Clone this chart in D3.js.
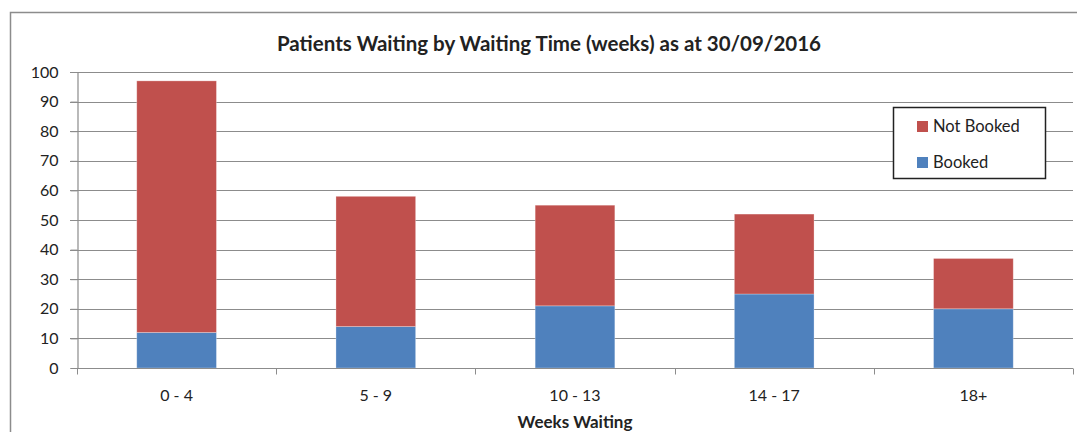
<!DOCTYPE html>
<html>
<head>
<meta charset="utf-8">
<script src="https://cdn.jsdelivr.net/npm/d3@7"></script>
<style>
  body { margin: 0; background: #fff; }
  text { font-family: Lato, "Open Sans", sans-serif; fill: #222; }
</style>
</head>
<body>
<div id="chart"></div>
<script>
// data
const categories = ['0 - 4', '5 - 9', '10 - 13', '14 - 17', '18+'];
const booked     = [12, 14, 21, 25, 20];
const notBooked  = [85, 44, 34, 27, 17];
const yTicks     = [0, 10, 20, 30, 40, 50, 60, 70, 80, 90, 100];
const seriesNames = ['Not Booked', 'Booked'];
const colors = { 'Booked': '#4F81BD', 'Not Booked': '#C0504D' };

const width = 1077, height = 432;
const margin = { top: 72, right: 4, bottom: 64, left: 77 };

const svg = d3.select('#chart').append('svg')
  .attr('width', width)
  .attr('height', height);

// outer frame
svg.append('rect')
  .attr('x', 10.5).attr('y', 12.5)
  .attr('width', 1100).attr('height', 450)
  .attr('fill', 'none')
  .attr('stroke', '#8c8c8c')
  .attr('stroke-width', 1.5);

const x = d3.scaleBand()
  .domain(categories)
  .range([margin.left, width - margin.right])
  .paddingInner(0.6)
  .paddingOuter(0.3);

const xOuter = d3.scaleBand()
  .domain(categories)
  .range([margin.left, width - margin.right]);

const y = d3.scaleLinear()
  .domain([0, 100])
  .range([height - margin.bottom, margin.top]);

// stacked data
const rows = categories.map((c, i) => ({ cat: c, 'Booked': booked[i], 'Not Booked': notBooked[i] }));
const stack = d3.stack().keys(['Booked', 'Not Booked']);
const layers = stack(rows);

// gridlines
svg.append('g')
  .selectAll('line')
  .data(yTicks.filter(d => d > 0))
  .enter().append('line')
  .attr('x1', margin.left - 7)
  .attr('x2', width - margin.right)
  .attr('y1', d => Math.round(y(d)) + 0.5)
  .attr('y2', d => Math.round(y(d)) + 0.5)
  .attr('stroke', '#8c8c8c')
  .attr('stroke-width', 1);

// bars
svg.append('g')
  .selectAll('g')
  .data(layers)
  .enter().append('g')
  .attr('fill', d => colors[d.key])
  .selectAll('rect')
  .data(d => d)
  .enter().append('rect')
  .attr('x', d => x(d.data.cat))
  .attr('y', d => y(d[1]))
  .attr('width', x.bandwidth())
  .attr('height', d => y(d[0]) - y(d[1]))
  .attr('stroke', 'rgba(255,255,255,0.35)')
  .attr('stroke-width', 0.8);

// y axis
const yAxis = svg.append('g')
  .attr('transform', `translate(${margin.left + 0.5},0)`)
  .call(d3.axisLeft(y).tickValues(yTicks).tickSize(7).tickPadding(12));
yAxis.select('.domain').attr('stroke', '#8c8c8c').attr('stroke-width', 1.2);
yAxis.selectAll('.tick line').attr('stroke', '#8c8c8c');
yAxis.selectAll('.tick text').style('font-size', '16px').attr('fill', '#222');

// x axis
const xAxisG = svg.append('g')
  .attr('transform', `translate(0,${Math.round(y(0)) + 0.5})`);
xAxisG.append('line')
  .attr('x1', margin.left).attr('x2', width - margin.right)
  .attr('stroke', '#8c8c8c').attr('stroke-width', 1.2);
const bounds = categories.map(c => xOuter(c)).concat([xOuter(categories[categories.length - 1]) + xOuter.bandwidth()]);
xAxisG.selectAll('.xtick')
  .data(bounds)
  .enter().append('line')
  .attr('class', 'xtick')
  .attr('x1', d => Math.round(d) + 0.5).attr('x2', d => Math.round(d) + 0.5)
  .attr('y1', 0).attr('y2', 6)
  .attr('stroke', '#8c8c8c');
xAxisG.selectAll('.xlabel')
  .data(categories)
  .enter().append('text')
  .attr('class', 'xlabel')
  .attr('x', d => x(d) + x.bandwidth() / 2)
  .attr('y', 32)
  .attr('text-anchor', 'middle')
  .style('font-size', '16px')
  .text(d => d);

// title
svg.append('text')
  .attr('x', 549)
  .attr('y', 51)
  .attr('text-anchor', 'middle')
  .style('font-size', '20.5px')
  .style('font-weight', 'bold')
  .text('Patients Waiting by Waiting Time (weeks) as at 30/09/2016');

// x axis title
svg.append('text')
  .attr('x', 575)
  .attr('y', 428)
  .attr('text-anchor', 'middle')
  .style('font-size', '17px')
  .style('font-weight', 'bold')
  .text('Weeks Waiting');

// legend
const legend = svg.append('g');
legend.append('rect')
  .attr('x', 893.5).attr('y', 107.5)
  .attr('width', 152).attr('height', 71)
  .attr('fill', '#fff')
  .attr('stroke', '#222')
  .attr('stroke-width', 1.5);
const li = legend.selectAll('.item')
  .data(seriesNames)
  .enter().append('g')
  .attr('class', 'item')
  .attr('transform', (d, i) => `translate(917,${121 + i * 36})`);
li.append('rect')
  .attr('width', 11).attr('height', 11)
  .attr('fill', d => colors[d]);
li.append('text')
  .attr('x', 16).attr('y', 11)
  .style('font-size', '16.5px')
  .text(d => d);
</script>
</body>
</html>
